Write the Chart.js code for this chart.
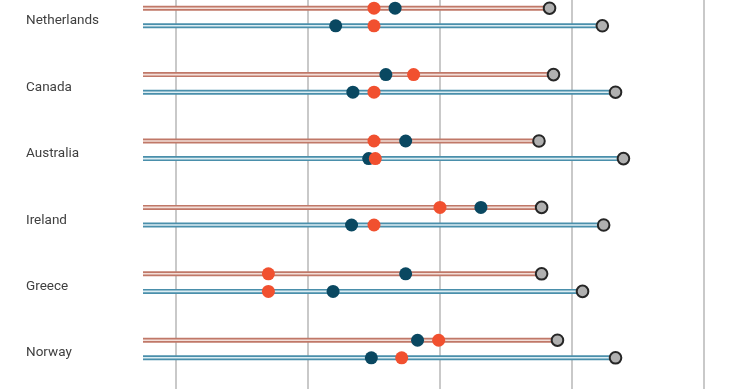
<!DOCTYPE html>
<html>
<head>
<meta charset="utf-8">
<script src="https://cdn.jsdelivr.net/npm/chart.js@4/dist/chart.umd.min.js"></script>
<style>
  html, body { margin: 0; padding: 0; background: #fff; }
  .chart-box { position: relative; width: 740px; height: 389px; }
</style>
</head>
<body>
<div class="chart-box"><canvas id="chart"></canvas></div>
<script>
// countries, top to bottom
const countries = ['Netherlands', 'Canada', 'Australia', 'Ireland', 'Greece', 'Norway'];

// upper (red) line of each country
const redLineEnd = [38.3, 38.6, 37.5, 37.7, 37.7, 38.9];
const redLineOrange = [25.0, 28.0, 25.0, 30.0, 17.0, 29.9];
const redLineBlue = [26.6, 25.9, 27.4, 33.1, 27.4, 28.3];

// lower (blue) line of each country
const blueLineEnd = [42.3, 43.3, 43.9, 42.4, 40.8, 43.3];
const blueLineOrange = [25.0, 25.0, 25.1, 25.0, 17.0, 27.1];
const blueLineBlue = [22.1, 23.4, 24.6, 23.3, 21.9, 24.8];

const gridTicks = [10, 20, 30, 40, 50];
const lineStart = 7.5;

const ROW_GAP = 0.1325;
const LABEL_SHIFT = 0.06;

const rowPoints = (values, shift) => values.map((v, i) => ({ x: v, y: i + shift }));

function makeLine(start, end, row, outer, inner) {
  const data = [{ x: start, y: row }, { x: end, y: row }];
  return [
    { type: 'line', data, borderColor: outer, borderWidth: 5, pointRadius: 0, order: 6 },
    { type: 'line', data, borderColor: inner, borderWidth: 1.6, pointRadius: 0, order: 5 }
  ];
}

const datasets = [];
countries.forEach((c, i) => {
  datasets.push(...makeLine(lineStart, redLineEnd[i], i - ROW_GAP, '#c07868', '#f3dfd9'));
  datasets.push(...makeLine(lineStart, blueLineEnd[i], i + ROW_GAP, '#4a8fab', '#dcedf3'));
});

const dot = (data, color, order) => ({
  type: 'scatter', data, order,
  backgroundColor: color, borderColor: color, borderWidth: 0,
  pointRadius: 6.5, pointHoverRadius: 6.5
});

datasets.push({
  type: 'scatter', order: 3,
  data: rowPoints(redLineEnd, -ROW_GAP).concat(rowPoints(blueLineEnd, ROW_GAP)),
  backgroundColor: '#b0b0b0', borderColor: '#262626', borderWidth: 2,
  pointRadius: 5.8, pointHoverRadius: 5.8
});
datasets.push(dot(rowPoints(redLineBlue, -ROW_GAP).concat(rowPoints(blueLineBlue, ROW_GAP)), '#0a4861', 2));
datasets.push(dot(rowPoints(redLineOrange, -ROW_GAP).concat(rowPoints(blueLineOrange, ROW_GAP)), '#f1502f', 1));

new Chart(document.getElementById('chart'), {
  data: { datasets },
  options: {
    responsive: true,
    maintainAspectRatio: false,
    animation: false,
    layout: { padding: { left: 26, right: 0, top: 0, bottom: 0 }, autoPadding: false },
    plugins: { legend: { display: false }, tooltip: { enabled: false } },
    scales: {
      x: {
        type: 'linear',
        min: lineStart,
        max: 52.73,
        afterBuildTicks: (scale) => { scale.ticks = gridTicks.map((v) => ({ value: v })); },
        afterFit: (scale) => {
          scale.height = 0;
          scale.paddingLeft = 0;
          scale.paddingRight = 0;
        },
        ticks: { display: false },
        border: { display: false },
        grid: { color: '#c9c9c9', lineWidth: 2, drawTicks: false }
      },
      y: {
        type: 'linear',
        reverse: true,
        min: -0.256,
        max: 5.602,
        afterBuildTicks: (scale) => {
          scale.ticks = countries.map((c, i) => ({ value: i + LABEL_SHIFT }));
        },
        afterFit: (scale) => {
          scale.width = 117;
          scale.paddingTop = 0;
          scale.paddingBottom = 0;
        },
        ticks: {
          callback: (v, i) => countries[i],
          crossAlign: 'far',
          padding: 0,
          color: '#3f3f3f',
          font: { family: 'Roboto', size: 13.5 }
        },
        border: { display: false },
        grid: { display: false, drawTicks: false }
      }
    }
  }
});
</script>
</body>
</html>
